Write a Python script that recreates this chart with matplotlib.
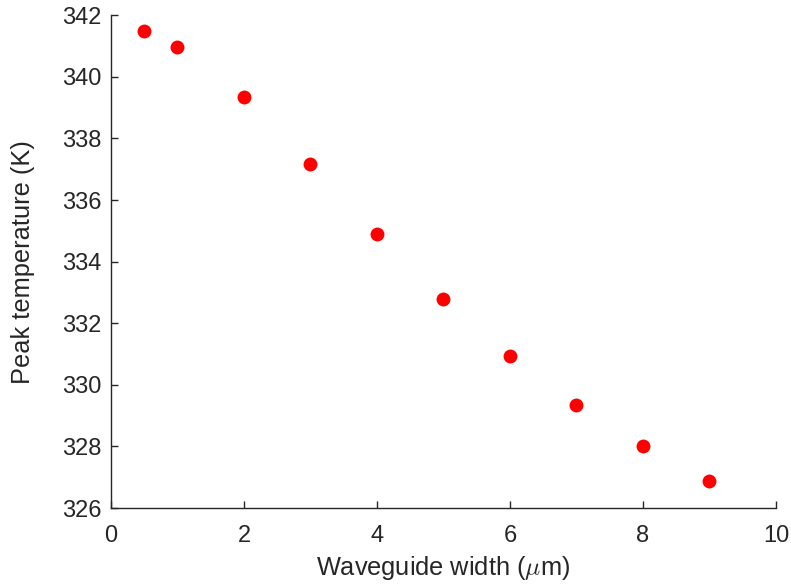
import matplotlib
matplotlib.use("Agg")
from matplotlib import pyplot as plt

width_um = [0.5, 1, 2, 3, 4, 5, 6, 7, 8, 9]
peak_temp = [341.48, 340.96, 339.33, 337.18, 334.90, 332.78, 330.93, 329.33, 328.02, 326.88]

plt.rcParams['font.family'] = ['Liberation Sans', 'DejaVu Sans']
plt.rcParams['mathtext.fontset'] = 'cm'

fig = plt.figure(figsize=(7.91, 5.85), dpi=100)
ax = fig.add_axes([0.1403, 0.1316, 0.8407, 0.8424])

ax.plot(width_um, peak_temp, 'o', color='red', markersize=10, markeredgewidth=0)

ax.set_xlim(0, 10)
ax.set_ylim(326, 342)
ax.set_xticks(range(0, 11, 2))
ax.set_yticks(range(326, 343, 2))

for s in ['top', 'right']:
    ax.spines[s].set_visible(False)
for s in ['left', 'bottom']:
    ax.spines[s].set_color('#262626')
    ax.spines[s].set_linewidth(1.0)

ax.tick_params(direction='in', length=5, width=1, colors='#262626', labelsize=17)
ax.tick_params(axis='y', pad=7)
ax.tick_params(axis='x', pad=12)
ax.set_xlabel(r"Waveguide width ($\mu$m)", fontsize=18.3, color='#262626', labelpad=5)
ax.set_ylabel("Peak temperature (K)", fontsize=18.3, color='#262626', labelpad=19)

fig.savefig("out.png", dpi=100)
